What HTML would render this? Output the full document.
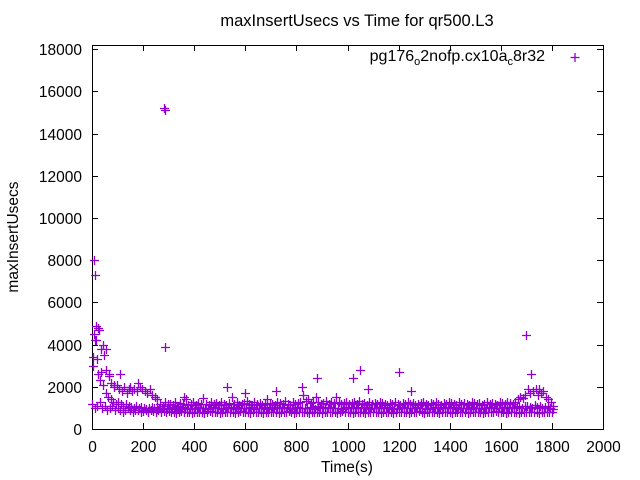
<!DOCTYPE html>
<html><head><meta charset="utf-8"><style>
body{margin:0;background:#fff}
svg text{font-family:"Liberation Sans",sans-serif;font-size:15.5px;fill:#000}
</style></head><body>
<svg id="c" width="640" height="480" style="position:absolute;left:0;top:0"></svg>
<script>
const xTicks=[0,200,400,600,800,1000,1200,1400,1600,1800,2000];
const yTicks=[0,2000,4000,6000,8000,10000,12000,14000,16000,18000];
const lowVals=[1200,1000,1100,1300,1000,1100,900,1000,1100,900,1000,900,800,900,1000,900,800,900,900,800,850,900,800,900,850,800,900,800,850,800,
850,800,820,780,800,850,790,810,800,780,820,800,790,810,760,800,830,790,800,810,780,800,820,790,800,810,770,800,830,790,800,810,780,800,820,790,800,770,810,800,790,820,800,780,810,800,790,830,800,780,800,810,790,800,820,780,800,810,790,800,770,800,820,790,810,800,780,800,830,790,800,810,780,800,790,820,800,780,810,800,790,800,820,780,800,810,790,800,770,810,800,790,820,800,780,810,800,790,830,800,780,800,810,790,800,820,780,800,810,790,800,770,810,800,790,820,800,780,810,800,790,800,820,780,800,810,790,800,830,790,800,810,780,800,820,790,800,780,810,800,800,820,790,800,810,780,800,820,790,800,820];
const midVals=[3400,4200,2600,2300,2100,1700,1500,1400,1300,1200,1300,1200,1100,1200,1100,1050,1000,1100,1000,1050,1000,950,1000,1050,1000,950,1000,980,1000,950,
1000,950,1020,980,1000,1050,960,1010,990,1000,970,1030,1000,980,1010,960,1000,1040,990,1000,1010,970,1000,1030,980,1000,960,1020,1000,990,980,1000,1050,970,1000,1010,990,1030,1000,960,1000,1020,980,1000,1040,990,1000,970,1010,1000,1050,1000,980,1010,1000,1060,1000,970,1100,1050,1020,1000,980,1040,1000,990,1010,1000,960,1020,1000,980,1010,1000,1050,990,1000,1030,970,1000,1010,1000,980,1020,1000,990,1040,1000,970,1010,1000,990,1020,1000,980,1010,1000,1050,990,1000,1000,970,1010,1000,1030,990,1000,980,1020,1000,990,1000,1040,970,1000,1010,990,1000,960,1020,1000,990,1010,1000,980,1040,1000,990,1010,1000,1000,1020,980,1000,1050,1000,1100,1050,1000,1080,1100,1050,1000,1120,1050,1100,1000,1050,1080,1000,950];
const highVals=[4500,4900,4700,3800,3500,2800,2600,2200,2000,2100,1900,1800,2000,1700,1900,1800,1900,1800,2000,1900,1800,1700,1900,1600,1500,1400,1200,1100,1300,1200,
1200,1150,1300,1100,1250,1200,1400,1150,1200,1300,1150,1250,1200,1450,1200,1150,1300,1200,1250,1150,1300,1200,1150,1250,1500,1200,1300,1150,1200,1250,1350,1200,1150,1300,1200,1250,1150,1200,1400,1250,1200,1150,1300,1250,1200,1350,1200,1150,1300,1200,1250,1300,1600,1350,1400,1250,1300,1500,1300,1200,1250,1350,1200,1300,1250,1500,1300,1200,1250,1300,1200,1250,1300,1200,1350,1200,1250,1150,1300,1200,1250,1200,1300,1250,1200,1150,1250,1200,1300,1200,1150,1250,1200,1300,1200,1250,1150,1200,1250,1300,1200,1150,1250,1200,1300,1200,1150,1250,1200,1300,1250,1200,1150,1300,1200,1250,1200,1150,1300,1250,1200,1250,1150,1200,1300,1200,1250,1200,1150,1300,1250,1200,1300,1250,1200,1300,1400,1500,1450,1600,1900,1700,1800,1900,1600,1700,1800,1500,1400,1300,1100];
const outT=[5,8,12,15,20,25,35,45,55,65,85,110,150,180,280,285,285,360,530,600,720,820,880,1020,1050,1080,1200,1250,1700,1720,1750];
const outV=[3000,8000,7300,4200,3300,4800,2700,4000,3800,2500,2100,2600,2000,2200,15200,15100,3900,1500,2000,1700,1800,2000,2400,2400,2800,1900,2700,1800,4450,2600,1900];
const L=92,R=603,T=45,B=429,XMAX=2000,YMAX=18200;
const sx=v=>L+(R-L)*v/XMAX, sy=v=>B-(B-T)*v/YMAX;
const svg=document.getElementById('c'),NS='http://www.w3.org/2000/svg';
function mk(tag,attrs,parent){const e=document.createElementNS(NS,tag);for(const k in attrs)e.setAttribute(k,attrs[k]);(parent||svg).appendChild(e);return e;}
const frame=mk('rect',{x:L+0.5,y:T+0.5,width:R-L,height:B-T,fill:'none',stroke:'#000','stroke-width':1});


xTicks.forEach(v=>{const x=Math.round(sx(v))+0.5;
 const t=mk('path',{d:`M${x} ${B}v-6M${x} ${T}v6`,stroke:'#000'});
 
 
 const lb=mk('text',{x:x,y:452,'text-anchor':'middle'});lb.textContent=v;
 
 });
yTicks.forEach(v=>{const y=Math.round(sy(v))+0.5;
 const t=mk('path',{d:`M${L} ${y}h6M${R} ${y}h-6`,stroke:'#000'});
 
 
 const lb=mk('text',{x:82,y:y+5.5,'text-anchor':'end'});lb.textContent=v;
 
 });
const g=mk('g',{stroke:'#9400d3','stroke-width':1.3,fill:'none'});


function plus(t,v){const x=Math.round(sx(t))+0.5,y=Math.round(sy(v))+0.5;
 const p=mk('path',{d:`M${x-4.5} ${y}h9M${x} ${y-4.5}v9`,stroke:'#9400d3'},g);
 
 }
[lowVals,midVals,highVals].forEach((arr,k)=>arr.forEach((v,i)=>plus(i*10+k*3,v)));
outT.forEach((t,i)=>plus(t,outV[i]));
</script>
<svg width="640" height="480" style="position:absolute;left:0;top:0">
<text x="357" y="26" text-anchor="middle" style="font-size:16.5px">maxInsertUsecs vs Time for qr500.L3</text>
<text x="347" y="472" text-anchor="middle">Time(s)</text>
<text transform="translate(18,237) rotate(-90)" text-anchor="middle">maxInsertUsecs</text>
<text x="545" y="61" text-anchor="end" style="font-size:16px">pg176<tspan dy="4" font-size="11">o</tspan><tspan dy="-4">2nofp.cx10a</tspan><tspan dy="4" font-size="11">c</tspan><tspan dy="-4">8r32</tspan></text>
<path d="M570.5 57.5h9M575 53v9" stroke="#9400d3" stroke-width="1.3"/>
</svg>
</body></html>
